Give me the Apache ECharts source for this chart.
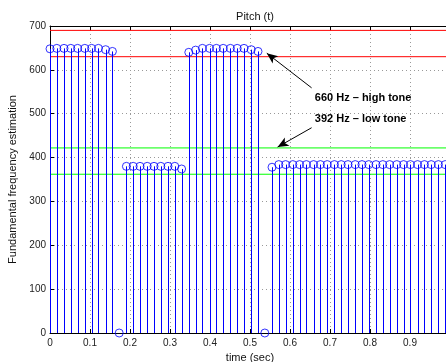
<!DOCTYPE html>
<html>
<head>
<meta charset="utf-8">
<script src="https://cdn.jsdelivr.net/npm/echarts@6/dist/echarts.min.js"></script>
<style>html,body{margin:0;padding:0;background:#fff}#c{width:446px;height:362px}</style>
</head>
<body>
<div id="c"></div>
<script>
// sample times (sec)
var times = [0,0.017,0.035,0.052,0.069,0.087,0.104,0.121,0.139,0.156,
  0.173,0.191,0.208,0.225,0.243,0.260,0.277,0.295,0.312,0.329,
  0.347,0.364,0.381,0.399,0.416,0.433,0.451,0.468,0.485,0.503,
  0.520,0.537,0.555,0.572,0.589,0.607,0.624,0.641,0.659,0.676,
  0.693,0.711,0.728,0.745,0.763,0.780,0.797,0.815,0.832,0.849,
  0.867,0.884,0.901,0.919,0.936,0.953,0.971,0.988];
// estimated pitch (Hz)
var pitch = [648,649,649,649,649,649,649,649,646,642,
  0,380,380,380,380,380,380,380,380,374,
  640,645,649,649,649,649,649,649,649,646,
  642,0,378,384,384,384,384,384,384,384,
  384,384,384,384,384,384,384,384,384,384,
  384,384,384,384,384,384,384,384];
var highBounds = [690, 630];
var lowBounds = [422, 362];
var boundSpan = [0, 1];
var xTicks = [0,0.1,0.2,0.3,0.4,0.5,0.6,0.7,0.8,0.9,1.0];
var yTicks = [0,100,200,300,400,500,600,700];
var annHigh = {text: '660 Hz \u2013 high tone', from: [0.654, 559], to: [0.542, 638], at: [0.662, 537]};
var annLow = {text: '392 Hz \u2013 low tone', from: [0.654, 468], to: [0.569, 424], at: [0.662, 489]};

var pts = times.map(function(t, i){ return [t, pitch[i]]; });
var chart = echarts.init(document.getElementById('c'), null, {renderer: 'canvas'});
var font = 'Liberation Sans, Arial, Helvetica, sans-serif';
var gridLine = {show: true, lineStyle: {color: '#999', type: [1, 3], width: 1}};

function boundSeries(v, color){
  return {type: 'line', xAxisIndex: 0, yAxisIndex: 0, z: 2, symbol: 'none', silent: true,
    data: boundSpan.map(function(x){ return [x, v]; }),
    lineStyle: {color: color, width: 1}, itemStyle: {color: color}};
}

var series = [
  {
    type: 'custom', xAxisIndex: 0, yAxisIndex: 0, clip: false, z: 3,
    data: pts,
    renderItem: function(params, api){
      var p0 = api.coord([api.value(0), 0]);
      var p1 = api.coord([api.value(0), api.value(1)]);
      var x = Math.round(p0[0]) + 0.5;
      return {type: 'line', shape: {x1: x, y1: p0[1], x2: x, y2: p1[1]},
        style: {stroke: '#0000ff', lineWidth: 1}};
    }
  },
  {
    type: 'scatter', xAxisIndex: 0, yAxisIndex: 0, clip: false, z: 4,
    data: pts, symbol: 'circle', symbolSize: 8,
    itemStyle: {color: 'rgba(0,0,0,0)', borderColor: '#0000ff', borderWidth: 1}
  }
];
highBounds.forEach(function(v){ series.push(boundSeries(v, '#ff0000')); });
lowBounds.forEach(function(v){ series.push(boundSeries(v, '#00ff00')); });
series.push({
  type: 'line', data: [], z: 5, xAxisIndex: 0, yAxisIndex: 0,
  markLine: {
    silent: true, symbol: ['none', 'arrow'], symbolSize: [7, 11], label: {show: false},
    lineStyle: {color: '#000', width: 1, type: 'solid'},
    data: [
      [{coord: annHigh.from}, {coord: annHigh.to}],
      [{coord: annLow.from}, {coord: annLow.to}]
    ]
  },
  markPoint: {
    silent: true, symbol: 'circle', symbolSize: 0,
    label: {show: true, position: 'right', distance: 0, fontFamily: font, fontSize: 11,
      fontWeight: 'bold', color: '#000', formatter: function(p){ return p.name; }},
    data: [
      {name: annHigh.text, coord: annHigh.at},
      {name: annLow.text, coord: annLow.at}
    ]
  }
});

chart.setOption({
  animation: false,
  backgroundColor: '#fff',
  title: {text: 'Pitch (t)', left: 250, top: 6, textAlign: 'center',
    textStyle: {fontFamily: font, fontSize: 11, fontWeight: 'normal', color: '#111'}},
  grid: {left: 50, top: 26, width: 400, height: 307, containLabel: false, outerBoundsMode: 'none'},
  xAxis: [{
    type: 'value', min: 0, max: 1, interval: 0.1,
    name: 'time (sec)', nameLocation: 'middle', nameGap: 19,
    nameTextStyle: {fontFamily: font, fontSize: 11, color: '#111'},
    axisLine: {show: true, onZero: false, lineStyle: {color: '#000', width: 1}},
    axisTick: {show: true, inside: true, length: 4, lineStyle: {color: '#000'}},
    axisLabel: {fontFamily: font, fontSize: 10, color: '#222', margin: 5,
      formatter: function(v){ return String(Math.round(v*10)/10); }},
    splitLine: gridLine
  }, {
    type: 'value', min: 0, max: 1, interval: 0.1, position: 'top',
    axisLine: {show: true, onZero: false, lineStyle: {color: '#000', width: 1}},
    axisTick: {show: true, inside: true, length: 4, lineStyle: {color: '#000'}},
    axisLabel: {show: false}, splitLine: {show: false}
  }],
  yAxis: [{
    type: 'value', min: 0, max: 700, interval: 100,
    name: 'Fundamental frequency estimation', nameLocation: 'middle', nameGap: 27,
    nameTextStyle: {fontFamily: font, fontSize: 11, color: '#111'},
    axisLine: {show: true, onZero: false, lineStyle: {color: '#000', width: 1}},
    axisTick: {show: true, inside: true, length: 4, lineStyle: {color: '#000'}},
    axisLabel: {fontFamily: font, fontSize: 10, color: '#222', margin: 4},
    splitLine: gridLine
  }],
  series: series
});
</script>
</body>
</html>
